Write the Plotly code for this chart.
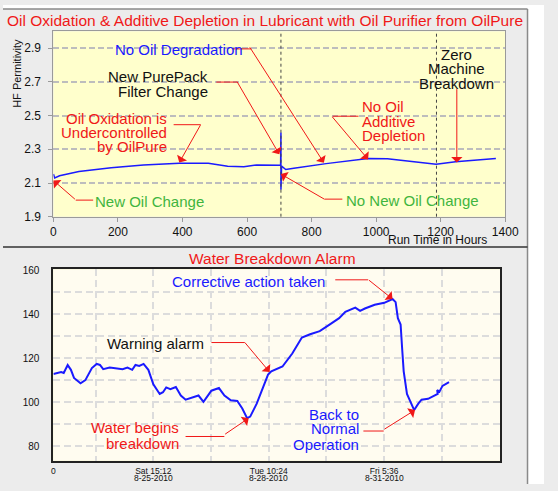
import plotly.graph_objects as go

W, H = 558, 491
FONT = "Liberation Sans, Arial, Helvetica, sans-serif"
RED = "#f01818"
BLUE = "#1a1aff"
GREEN = "#3fb53f"

# ---------------- top chart data ----------------
run_hours = [0, 4, 19, 79, 179, 279, 390, 480, 540, 590, 630, 685, 704, 705, 705, 707,
             720, 745, 845, 905, 975, 1035, 1085, 1135, 1186, 1246, 1306, 1371]
hf_permittivity = [2.153, 2.13, 2.143, 2.168, 2.19, 2.207, 2.217, 2.217, 2.20, 2.196, 2.207,
                   2.207, 2.205, 2.40, 2.06, 2.20, 2.18, 2.188, 2.215, 2.23, 2.246, 2.244,
                   2.234, 2.22, 2.211, 2.226, 2.234, 2.246]
top_x_ticks = [0, 200, 400, 600, 800, 1000, 1200, 1400]
top_y_ticks = [1.9, 2.1, 2.3, 2.5, 2.7, 2.9]
event_hours = [705, 1187]

# ---------------- bottom chart data ----------------
alarm_hours = [0, 4.5, 6, 8.3, 10.2, 12, 15.8, 18.6, 22.4, 25.2, 27.1, 29, 32.8, 40.3, 43.1,
               45.9, 47.8, 50, 52.5, 55.3, 58.2, 61.9, 63.8, 65.7, 68.1, 71.3, 74.2, 77, 84.5,
               87.4, 92, 96.4, 99.6, 103.3, 107.1, 110, 112.8, 114.6, 118.4, 122.2, 125, 126.9,
               133.4, 139.1, 144.7, 149.5, 155.1, 160.8, 166.4, 170, 175.8, 178.6, 181.4, 187.1,
               192.7, 197.5, 199.3, 200.6, 202.2, 203.1, 204, 205.9, 207.8, 210.1, 212.5, 214.4,
               218.2, 223.8, 223.5, 224.8, 226.6, 230.4]
alarm_values = [112.8, 113.7, 113.3, 116.9, 114.7, 111, 108.6, 110, 115.5, 117.4, 116.9, 115,
                115.7, 115, 115.7, 114.7, 116.9, 116.5, 117.4, 114.7, 108.1, 103.7, 104.5, 106.7,
                105.9, 106.9, 103, 101.1, 103, 100.1, 105.2, 106.4, 103, 100.8, 100.5, 97.1, 92.7,
                93.4, 99.3, 106.7, 112.5, 114, 116.2, 122.1, 129.4, 130.9, 132.3, 135.3, 138.2,
                141.1, 143, 141.5, 142.6, 144.3, 145.2, 146.9, 145.5, 138.2, 135.3, 124.3, 114,
                103.7, 100.1, 96.4, 99.3, 101.1, 101.5, 103.7, 105.5, 104.7, 107.4, 109.1]
bottom_tick_hours = [0, 58.2, 125.4, 192.6]
bottom_tick_times = ["0", "Sat 15:12", "Tue 10:24", "Fri 5:36"]
bottom_tick_dates = ["", "8-25-2010", "8-28-2010", "8-31-2010"]
bottom_minor_hours = [24.6, 91.8, 159.0, 226.2]
bottom_y_ticks = [80, 100, 120, 140, 160]


def px(x):
    return x / W


def py(y):
    return 1 - y / H


fig = go.Figure()
fig.add_trace(go.Scatter(x=run_hours, y=hf_permittivity, mode="lines", xaxis="x", yaxis="y",
                         line=dict(color=BLUE, width=1.5), showlegend=False, hoverinfo="skip"))
fig.add_trace(go.Scatter(x=alarm_hours, y=alarm_values, mode="lines", xaxis="x2", yaxis="y2",
                         line=dict(color=BLUE, width=2), showlegend=False, hoverinfo="skip"))

shapes = []
# white margins outside the grey card
shapes.append(dict(type="rect", xref="paper", yref="paper", x0=px(541), x1=1, y0=0, y1=1,
                   fillcolor="white", line=dict(width=0), layer="below"))
shapes.append(dict(type="rect", xref="paper", yref="paper", x0=0, x1=1, y0=py(4), y1=1,
                   fillcolor="white", line=dict(width=0), layer="below"))
shapes.append(dict(type="line", xref="paper", yref="paper", x0=px(0), x1=px(541), y0=py(4), y1=py(4),
                   line=dict(color="#8a8a8a", width=1.5)))
shapes.append(dict(type="line", xref="paper", yref="paper", x0=px(541), x1=px(541), y0=py(4), y1=py(491),
                   line=dict(color="#8a8a8a", width=1.5)))
shapes.append(dict(type="line", xref="paper", yref="paper", x0=px(0), x1=px(541), y0=py(248), y1=py(248),
                   line=dict(color="#333333", width=1.5)))
# event lines
for h in event_hours:
    shapes.append(dict(type="line", xref="x", yref="y domain", x0=h, x1=h, y0=0, y1=1,
                       line=dict(color="#444444", width=1, dash="3px,3px")))

# connector segments (pixel positions)
segments = [
    (237, 45, 256, 45), (220, 79, 242, 79), (176, 122.7, 204, 122.7), (75, 200, 93, 200),
    (331.7, 199, 350, 199), (340, 114, 366.7, 114),
    (342.7, 281.7, 376.7, 281.7), (215, 346, 249.3, 346), (188.3, 442.3, 228.3, 442.3),
    (371.7, 436.7, 392.7, 436.7),
]
for x0, y0, x1, y1 in segments:
    shapes.append(dict(type="line", xref="paper", yref="paper", x0=px(x0), x1=px(x1), y0=py(y0), y1=py(y1),
                       line=dict(color=RED, width=1)))

annotations = []


def text(t, x, y, color, size=15, xanchor="center", angle=0):
    annotations.append(dict(text=t, x=px(x), y=py(y), xref="paper", yref="paper", showarrow=False,
                            xanchor=xanchor, yanchor="middle", textangle=angle,
                            font=dict(family=FONT, size=size, color=color)))


def arrow(xa, ya, tx, ty, dx, dy):
    annotations.append(dict(text="", x=tx, y=ty, xref=xa, yref=ya, ax=dx, ay=dy, axref="pixel",
                            ayref="pixel", showarrow=True, arrowhead=1, arrowsize=1.9,
                            arrowwidth=1, arrowcolor=RED, standoff=0))


# titles
text("Oil Oxidation &amp; Additive Depletion in Lubricant with Oil Purifier from OilPure", 270.5, 16, RED, 15.5)
text("Water Breakdown Alarm", 277.5, 260, RED, 15.5)
text("HF Permitivity", 15, 70, "#111111", 11, angle=-90)
text("Run Time in Hours", 501, 241, "#111111", 12, xanchor="right")

# top annotations
text("No Oil Degradation", 182, 46, BLUE)
text("New PurePack", 213, 73.3, "#111111", xanchor="right")
text("Filter Change", 213, 89, "#111111", xanchor="right")
text("Oil Oxidation is", 171, 116.7, RED, xanchor="right")
text("Undercontrolled", 171, 131, RED, xanchor="right")
text("by OilPure", 171, 145.5, RED, xanchor="right")
text("New Oil Change", 151.5, 201, GREEN)
text("No New Oil Change", 422, 200, GREEN)
text("No Oil", 368, 104, RED, xanchor="left")
text("Additive", 368, 119, RED, xanchor="left")
text("Depletion", 368, 134, RED, xanchor="left")
text("Zero", 468, 50.7, "#111111")
text("Machine", 468, 65.5, "#111111")
text("Breakdown", 468, 80.7, "#111111")

arrow("x", "y", 838, 2.22, -75, -117)
arrow("x", "y", 700, 2.27, -43, -74)
arrow("x", "y", 390, 2.221, 22, -39)
arrow("x", "y", 0, 2.115, 23, 20)
arrow("x", "y", 705, 2.153, 45, 26)
arrow("x", "y", 975, 2.24, -37, -44)
arrow("x", "y", 1250, 2.221, 0, -75)

# bottom annotations
text("Corrective action taken", 253.5, 283.3, BLUE)
text("Warning alarm", 157, 347.3, "#111111")
text("Water begins", 183.3, 433.3, RED, xanchor="right")
text("breakdown", 183.3, 449.3, RED, xanchor="right")
text("Back to", 369, 420, BLUE, xanchor="right")
text("Normal", 369, 434.5, BLUE, xanchor="right")
text("Operation", 369, 450, BLUE, xanchor="right")

arrow("x2", "y2", 197.5, 146.9, -25, -20)
arrow("x2", "y2", 125.9, 113.7, -26, -31)
arrow("x2", "y2", 113.7, 92.7, -25, 17)
arrow("x2", "y2", 210.6, 96.4, -32, 20)

# second line of the bottom time labels
for h, d in zip(bottom_tick_hours, bottom_tick_dates):
    if d:
        annotations.append(dict(text=d, x=h, xref="x2", y=py(484.5), yref="paper", showarrow=False,
                                xanchor="center", yanchor="middle",
                                font=dict(family=FONT, size=8.5, color="#111111")))

fig.update_layout(
    width=W, height=H, autosize=False, margin=dict(l=0, r=0, t=0, b=0),
    paper_bgcolor="#ececec", showlegend=False,
    font=dict(family=FONT, color="#111111"),
    shapes=shapes, annotations=annotations,
    xaxis=dict(domain=[px(52), px(518)], anchor="y", range=[0, 1400], tickvals=top_x_ticks,
               showgrid=False, zeroline=False, showline=True, linecolor="#9a9a9a", linewidth=1,
               mirror=True, ticks="outside", ticklen=4, tickcolor="#9a9a9a",
               tickfont=dict(size=12, family=FONT, color="#111111")),
    yaxis=dict(domain=[py(217), py(27)], anchor="x", range=[1.9, 3.0], tickvals=top_y_ticks,
               tickformat=".1f", showgrid=True, gridcolor="#bdbdbd", gridwidth=1.5, griddash="6px,3px",
               zeroline=False, showline=True, linecolor="#9a9a9a", linewidth=1, mirror=True,
               ticks="outside", ticklen=4, tickcolor="#9a9a9a", ticklabelstandoff=5,
               tickfont=dict(size=12, family=FONT, color="#111111")),
    plot_bgcolor="#ffffcc",
    xaxis2=dict(domain=[px(52), px(513)], anchor="y2", range=[0, 260.3], tickvals=bottom_tick_hours,
                ticktext=bottom_tick_times, showgrid=True, gridcolor="#dcdcdc", gridwidth=1.5,
                griddash="7px,4px", zeroline=False, showline=True, linecolor="#222222", linewidth=2,
                mirror=True, ticks="", ticklabelstandoff=1,
                minor=dict(tickvals=bottom_minor_hours, showgrid=True, gridcolor="#dcdcdc",
                           gridwidth=1.5, griddash="7px,4px"),
                tickfont=dict(size=8.5, family=FONT, color="#111111")),
    yaxis2=dict(domain=[py(467), py(271)], anchor="x2", range=[73.4, 160.4], tickvals=bottom_y_ticks,
                showgrid=True, gridcolor="#dcdcdc", gridwidth=1.5, griddash="7px,4px",
                zeroline=False, showline=True, linecolor="#222222", linewidth=2, mirror=True,
                ticks="", ticklabelstandoff=10,
                minor=dict(dtick=10, tick0=0, showgrid=True, gridcolor="#dcdcdc", gridwidth=1.5,
                           griddash="7px,4px"),
                tickfont=dict(size=10, family=FONT, color="#111111")),
)

# second plot background via a shape on the bottom subplot
fig.add_shape(type="rect", xref="x2 domain", yref="y2 domain", x0=0, x1=1, y0=0, y1=1,
              fillcolor="#fffcf0", line=dict(width=0), layer="below")

fig.write_html("out.html", config={"displayModeBar": False},
               post_script="document.body.style.margin='0';document.body.style.padding='0';")
